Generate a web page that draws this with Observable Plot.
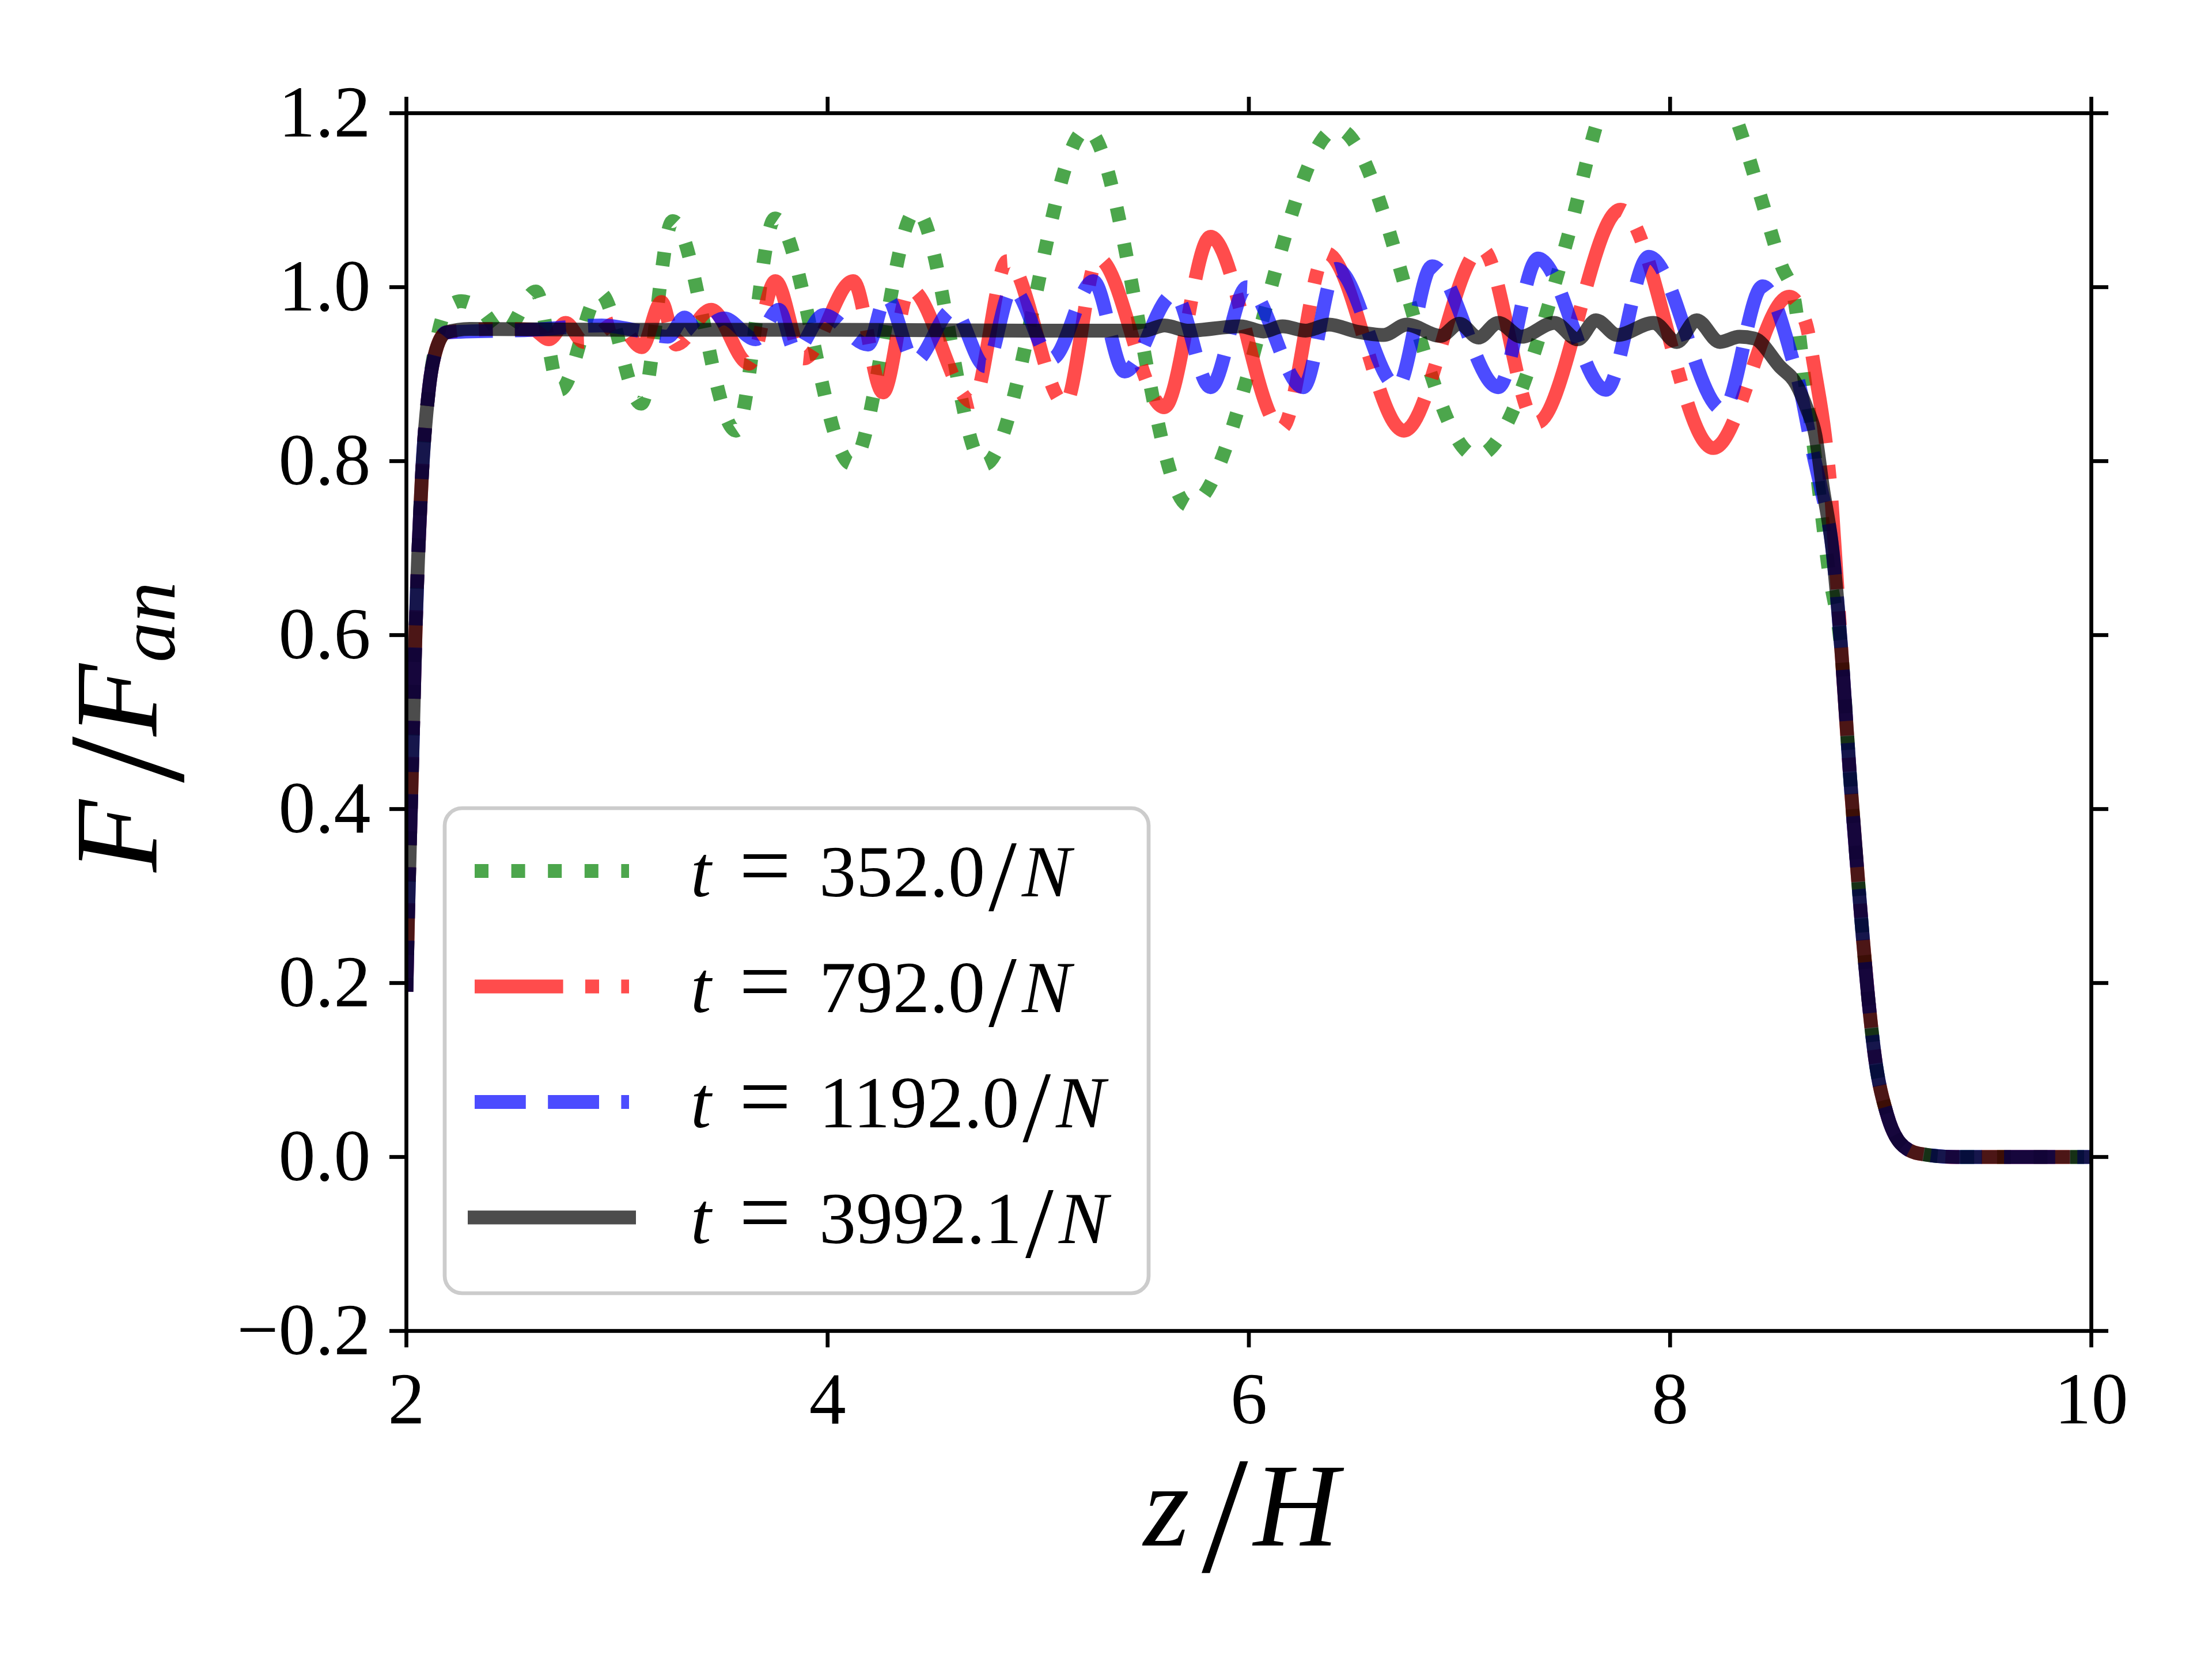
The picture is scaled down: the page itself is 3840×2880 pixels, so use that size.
<!DOCTYPE html>
<html>
<head>
<meta charset="utf-8">
<script src="https://cdn.jsdelivr.net/npm/d3@7"></script>
<script src="https://cdn.jsdelivr.net/npm/@observablehq/plot@0.6"></script>
<style>
  html, body { margin: 0; padding: 0; background: #ffffff; }
  svg { display: block; }
</style>
</head>
<body>
<div id="chart"></div>
<script>
// ---------------- data ----------------
const xTicks = [2, 4, 6, 8, 10];
const yTicks = [-0.2, 0.0, 0.2, 0.4, 0.6, 0.8, 1.0, 1.2];

const labels = ["352.0", "792.0", "1192.0", "3992.1"];

// t = 352.0/N  (green, dotted)
const z352 = [2.0, 2.008, 2.027, 2.043, 2.073, 2.108, 2.141, 2.19, 2.26, 2.35, 2.46, 2.615, 2.73, 2.92, 3.115, 3.264,
  3.565, 3.75, 4.113, 4.42, 4.743, 5.23, 5.716, 6.42, 7.08, 7.522, 7.647, 8.0, 8.33, 8.43, 8.527, 8.59, 8.613, 8.635,
  8.67, 8.71, 8.75, 8.816, 8.853, 8.895, 8.942, 8.973, 9.03, 9.093, 9.18, 9.36, 10.0];
const f352 = [0.19, 0.28, 0.45, 0.6, 0.78, 0.885, 0.935, 0.975, 0.984, 0.975, 0.947, 0.995, 0.882, 0.993, 0.866, 1.076,
  0.835, 1.079, 0.797, 1.088, 0.796, 1.181, 0.749, 1.182, 0.806, 1.064, 1.184, 1.34, 1.1825, 1.104, 1.026, 0.986, 0.946, 0.90,
  0.84, 0.76, 0.68, 0.573, 0.442, 0.311, 0.18, 0.114, 0.049, 0.016, 0.004, 0.0, 0.0];

// t = 792.0/N  (red, dash-dot)
const z792 = [2.0, 2.008, 2.027, 2.043, 2.073, 2.108, 2.141, 2.19, 2.45, 2.6, 2.677, 2.756, 2.842, 3.0, 3.117, 3.211,
  3.28, 3.447, 3.627, 3.752, 3.886, 4.121, 4.263, 4.39, 4.688, 4.853, 5.127, 5.284, 5.598, 5.818, 6.155, 6.367, 6.736,
  7.106, 7.365, 7.765, 8.205, 8.566, 8.644, 8.69, 8.735, 8.765, 8.79, 8.816, 8.853, 8.895, 8.942, 8.973, 9.03, 9.093,
  9.18, 9.36, 10.0];
const f792 = [0.19, 0.28, 0.45, 0.6, 0.78, 0.885, 0.928, 0.948, 0.952, 0.951, 0.940, 0.959, 0.937, 0.959, 0.931, 0.983,
  0.934, 0.974, 0.912, 1.007, 0.918, 1.007, 0.879, 0.998, 0.868, 1.03, 0.866, 1.033, 0.862, 1.058, 0.838, 1.039, 0.835,
  1.044, 0.844, 1.089, 0.815, 0.989, 0.959, 0.90, 0.83, 0.76, 0.67, 0.573, 0.442, 0.311, 0.18, 0.114, 0.049, 0.016,
  0.004, 0.0, 0.0];

// t = 1192.0/N  (blue, dashed)
const z1192 = [2.0, 2.008, 2.027, 2.043, 2.073, 2.108, 2.141, 2.19, 2.6, 2.928, 3.1, 3.242, 3.321, 3.384, 3.509, 3.658,
  3.768, 3.847, 3.98, 4.192, 4.278, 4.413, 4.594, 4.75, 4.876, 5.065, 5.261, 5.41, 5.645, 5.818, 5.991, 6.258, 6.415,
  6.705, 6.87, 7.184, 7.373, 7.695, 7.899, 8.252, 8.44, 8.58, 8.613, 8.676, 8.715, 8.77, 8.816, 8.853, 8.895, 8.942,
  8.973, 9.03, 9.093, 9.18, 9.36, 10.0];
const f1192 = [0.19, 0.28, 0.45, 0.6, 0.78, 0.885, 0.928, 0.948, 0.951, 0.956, 0.950, 0.943, 0.965, 0.949, 0.964, 0.940,
  0.974, 0.927, 0.968, 0.934, 0.989, 0.915, 0.974, 0.909, 0.998, 0.918, 1.007, 0.903, 0.992, 0.885, 1.0, 0.885, 1.021,
  0.886, 1.024, 0.885, 1.033, 0.882, 1.035, 0.859, 1.001, 0.918, 0.888, 0.812, 0.77, 0.70, 0.573, 0.442, 0.311, 0.18,
  0.114, 0.049, 0.016, 0.004, 0.0, 0.0];

// t = 3992.1/N  (black, solid)
const z3992 = [2.0, 2.008, 2.027, 2.043, 2.073, 2.108, 2.141, 2.19, 2.3, 3.0, 4.0, 5.0, 5.5, 5.6, 5.71, 5.96, 6.07, 6.16,
  6.27, 6.38, 6.51, 6.64, 6.75, 6.91, 7.0, 7.09, 7.184, 7.294, 7.45, 7.561, 7.648, 7.75, 7.922, 8.032, 8.126, 8.236,
  8.33, 8.4, 8.52, 8.6, 8.65, 8.69, 8.725, 8.77, 8.816, 8.853, 8.895, 8.942, 8.973, 9.03, 9.093, 9.18, 9.36, 10.0];
const f3992 = [0.19, 0.28, 0.45, 0.6, 0.78, 0.885, 0.928, 0.948, 0.952, 0.951, 0.951, 0.950, 0.950, 0.956, 0.950, 0.955,
  0.949, 0.955, 0.950, 0.957, 0.949, 0.945, 0.957, 0.944, 0.958, 0.942, 0.959, 0.943, 0.959, 0.940, 0.962, 0.945, 0.959,
  0.937, 0.962, 0.937, 0.943, 0.941, 0.909, 0.888, 0.86, 0.83, 0.77, 0.70, 0.573, 0.442, 0.311, 0.18, 0.114, 0.049,
  0.016, 0.004, 0.0, 0.0];

// ---------------- styling ----------------
const LW = 24;
const series = [
  {label: labels[0], z: z352,  f: f352,  color: "#008000", dash: "24,39.6"},
  {label: labels[1], z: z792,  f: f792,  color: "#ff0000", dash: "153.6,38.4,24,38.4"},
  {label: labels[2], z: z1192, f: f1192, color: "#0000ff", dash: "88.8,38.4"},
  {label: labels[3], z: z3992, f: f3992, color: "#000000", dash: null}
];

const W = 3840, H = 2880;
const mL = 705, mR = 210, mT = 196, mB = 570;
const FONT = "'Liberation Serif', 'DejaVu Serif', serif";
const TICKFS = 128;

const fmtY = d => (d < 0 ? "\u2212" : "") + Math.abs(d).toFixed(1);

const lineMarks = series.map(s => Plot.line(d3.range(s.z.length), {
  x: i => s.z[i],
  y: i => s.f[i],
  stroke: s.color,
  strokeOpacity: 0.7,
  strokeWidth: LW,
  strokeDasharray: s.dash || undefined,
  strokeLinecap: "butt",
  strokeLinejoin: "round",
  curve: "monotone-x",
  clip: true
}));

// measure text widths with the installed font
const ctx = document.createElement("canvas").getContext("2d");
function textW(str, size, italic) {
  ctx.font = (italic ? "italic " : "") + size + "px " + FONT;
  return ctx.measureText(str).width;
}

function annotations() {
  const g = d3.create("svg:g")
    .attr("font-family", FONT)
    .attr("fill", "black")
    .attr("text-anchor", "start");

  // ---- legend ----
  const lg = g.append("g");
  lg.append("rect")
    .attr("x", 772).attr("y", 1403).attr("width", 1222).attr("height", 842)
    .attr("rx", 30).attr("ry", 30)
    .attr("fill", "white").attr("fill-opacity", 0.8)
    .attr("stroke", "#cccccc").attr("stroke-width", 6.7);
  series.forEach((s, i) => {
    const cy = 1512 + i * 200.5;
    lg.append("line")
      .attr("x1", 824).attr("x2", 1092).attr("y1", cy).attr("y2", cy)
      .attr("stroke", s.color).attr("stroke-opacity", 0.7).attr("stroke-width", LW)
      .attr("stroke-dasharray", s.dash)
      .attr("stroke-linecap", s.dash ? "butt" : "square");
    const base = cy + 44;
    const numX = 1422;
    const numW = textW(s.label, TICKFS, false);
    const t = lg.append("text").attr("y", base).attr("font-size", TICKFS).attr("text-anchor", "start");
    t.append("tspan").attr("x", 1199).attr("font-style", "italic").text("t");
    t.append("tspan").attr("x", 1283).attr("font-size", 160).text("=");
    t.append("tspan").attr("x", numX).text(s.label);
    t.append("tspan").attr("x", numX + numW + 6).attr("dy", 24).attr("font-size", 176).text("/");
    t.append("tspan").attr("x", numX + numW + 64).attr("dy", -24).attr("font-style", "italic").text("N");
  });

  // ---- x axis label  z/H ----
  const xl = g.append("text").attr("y", 2683).attr("font-size", 205).attr("text-anchor", "start");
  xl.append("tspan").attr("x", 1985).attr("font-style", "italic").text("z");
  xl.append("tspan").attr("x", 2086).attr("dy", 45).attr("font-size", 290).text("/");
  xl.append("tspan").attr("x", 2176).attr("dy", -45).attr("font-style", "italic").text("H");

  // ---- y axis label  F/F_an ----
  const yl = g.append("text").attr("transform", "translate(272,1262) rotate(-90)")
    .attr("font-size", 205).attr("text-anchor", "start");
  yl.append("tspan").attr("x", -252).attr("font-style", "italic").text("F");
  yl.append("tspan").attr("x", -97).attr("dy", 45).attr("font-size", 290).text("/");
  yl.append("tspan").attr("x", -16).attr("dy", -45).attr("font-style", "italic").text("F");
  yl.append("tspan").attr("x", 112).attr("dy", 31).attr("font-size", 140).attr("font-style", "italic").text("an");

  return g.node();
}

const chart = Plot.plot({
  width: W,
  height: H,
  marginLeft: mL,
  marginRight: mR,
  marginTop: mT,
  marginBottom: mB,
  style: {fontFamily: FONT, fontSize: TICKFS + "px", background: "white", color: "black", overflow: "visible"},
  x: {domain: [2, 10]},
  y: {domain: [-0.2, 1.2]},
  marks: [
    ...lineMarks,
    Plot.frame({stroke: "black", strokeWidth: 6.7}),
    Plot.axisX({ticks: xTicks, tickSize: 29, tickPadding: 41, strokeWidth: 6.7, fontSize: TICKFS,
      tickFormat: d => String(d), label: null}),
    Plot.axisX({ticks: xTicks, anchor: "top", tickSize: 29, strokeWidth: 6.7, tickFormat: () => "", label: null}),
    Plot.axisY({ticks: yTicks, tickSize: 29, tickPadding: 33, strokeWidth: 6.7, fontSize: TICKFS,
      tickFormat: fmtY, label: null}),
    Plot.axisY({ticks: yTicks, anchor: "right", tickSize: 29, strokeWidth: 6.7, tickFormat: () => "", label: null}),
    annotations
  ]
});

document.getElementById("chart").appendChild(chart);
</script>
</body>
</html>
